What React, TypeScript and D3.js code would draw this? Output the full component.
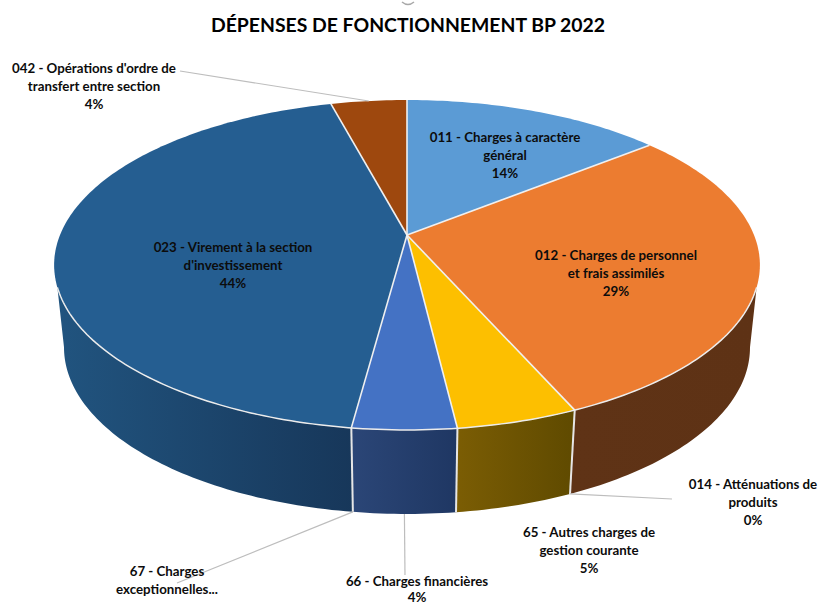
import React from "react";
import * as d3 from "d3";

const title = "DÉPENSES DE FONCTIONNEMENT BP 2022";
const categories = ["011", "012", "014", "65", "66", "67", "023", "042"];
const values = [14.2, 29.2, 0, 4.7, 4.0, 0, 43.75, 4.15];
const topColors = ["#5b9bd5", "#ec7c30", "#a5a5a5", "#fdbf00", "#4472c4", "#70ad47", "#255e91", "#9e480e"];
const sideStart = ["#37618a", "#5f3316", "#666666", "#7b5d04", "#2b4677", "#43682b", "#21547f", "#5f2c08"];
const sideEnd = ["#37618a", "#5e3215", "#666666", "#5f4a00", "#1f3763", "#43682b", "#17375a", "#5f2c08"];
const labelLines = [
  ["011 - Charges à caractère", "général", "14%"],
  ["012 - Charges de personnel", "et frais assimilés", "29%"],
  ["014 - Atténuations de", "produits", "0%"],
  ["65 - Autres charges de", "gestion courante", "5%"],
  ["66 - Charges financières", "4%"],
  ["67 - Charges", "exceptionnelles..."],
  ["023 - Virement à la section", "d'investissement", "44%"],
  ["042 - Opérations d'ordre de", "transfert entre section", "4%"],
];
const labelX = [505, 616, 753, 589, 417, 167, 233, 94];
const labelY = [142, 260, 489, 537, 586, 576, 252, 73];
const lineStep = [18, 18, 18, 18, 15.5, 18, 18, 18];
// leader line end (label side); null = label sits on the slice
const leaderEnd: ([number, number] | null)[] = [
  null, null, [672, 499], null, [405, 575], [177, 583], null, [180, 71],
];
const leaderFromTop = [false, false, false, false, false, false, false, true];

const W = 819, H = 605;
const cx = 407, cy = 235, R = 347, Hz = 159.5, k = 0.1818;
const shrink = 0.972, depth0 = 82, depth1 = 2;

const disc = (a: number) => ({ u: Math.sin(a), v: -Math.cos(a) });
const topPt = (a: number): [number, number] => {
  const { u, v } = disc(a);
  const w = 1 - k * v;
  return [cx + (R * u) / w, cy + (Hz * v) / w];
};
const botPt = (a: number): [number, number] => {
  const [x, y] = topPt(a);
  const { v } = disc(a);
  return [cx + (x - cx) * shrink, y + depth0 + depth1 * v];
};
const arcAngles = (a0: number, a1: number) => {
  const n = Math.max(1, Math.ceil(((a1 - a0) * 180) / Math.PI));
  return d3.range(n + 1).map((i) => a0 + ((a1 - a0) * i) / n);
};

const pieGen = d3.pie<number>().sort(null).value((d) => d).startAngle(0).endAngle(2 * Math.PI);
const slices = pieGen(values);
const line = d3.line<[number, number]>().x((d) => d[0]).y((d) => d[1]);
// the wall leaves the top rim a little below the widest point, the base curve turns at the widest point
const topStart = Math.acos(-0.31);
const topEnd = 2 * Math.PI - topStart;
const botStart = Math.acos(-k);
const botEnd = 2 * Math.PI - botStart;

export default function App() {
  const sides = slices
    .map((s, i) => {
      const a0 = Math.max(s.startAngle, topStart);
      const a1 = Math.min(s.endAngle, topEnd);
      if (a1 <= a0) return null;
      const b0 = Math.max(s.startAngle, botStart);
      const b1 = Math.min(s.endAngle, botEnd);
      const pts = [...arcAngles(a0, a1).map(topPt), ...arcAngles(b0, b1).reverse().map(botPt)];
      const xs = pts.map((p) => p[0]);
      return { i, a0, a1, pts, x0: d3.min(xs)!, x1: d3.max(xs)! };
    })
    .filter(Boolean) as { i: number; a0: number; a1: number; pts: [number, number][]; x0: number; x1: number }[];

  return (
    <svg width={W} height={H} style={{ position: "absolute", left: 0, top: 0, background: "#fff" }}>
      <defs>
        {sides.map((s) => (
          <linearGradient key={s.i} id={`side${s.i}`} gradientUnits="userSpaceOnUse" x1={s.x0} x2={s.x1} y1={0} y2={0}>
            <stop offset="0" stopColor={sideStart[s.i]} />
            <stop offset="1" stopColor={sideEnd[s.i]} />
          </linearGradient>
        ))}
      </defs>
      <path d="M402 2 Q408 7 414 2" fill="none" stroke="#a8a8a8" strokeWidth={1.5} />
      <text x={408} y={32} textAnchor="middle" fontFamily="Lato" fontWeight={700} fontSize={19.4} fill="#000">
        {title}
      </text>

      {sides.map((s) => (
        <path key={s.i} d={line(s.pts)! + "Z"} fill={`url(#side${s.i})`} />
      ))}
      {sides.filter((s) => s.a0 > topStart).map((s) => (
        <path key={s.i} d={line([topPt(s.a0), botPt(s.a0)])!} stroke="#e6e6e6" strokeWidth={2} fill="none" />
      ))}

      {slices.map((s, i) =>
        s.endAngle > s.startAngle ? (
          <path
            key={i}
            d={line([[cx, cy] as [number, number], ...arcAngles(s.startAngle, s.endAngle).map(topPt)])! + "Z"}
            fill={topColors[i]}
          />
        ) : null
      )}
      <path d={line(arcAngles(topStart, topEnd).map(topPt))!} fill="none" stroke="#ececec" strokeWidth={1.5} />
      {slices.map((s, i) =>
        s.endAngle > s.startAngle ? (
          <path key={i} d={line([[cx, cy] as [number, number], topPt(s.endAngle)])!} stroke="#f0f0f0" strokeWidth={1.6} fill="none" />
        ) : null
      )}

      {slices.map((s, i) => {
        const end = leaderEnd[i];
        if (!end) return null;
        const mid = (s.startAngle + s.endAngle) / 2;
        const start = leaderFromTop[i] ? topPt(mid) : botPt(mid);
        return <path key={i} d={line([start, end])!} stroke="#bdbdbd" strokeWidth={1.2} fill="none" />;
      })}

      {labelLines.map((ls, i) => (
        <text key={i} textAnchor="middle" fontFamily="Lato" fontWeight={700} fontSize={13.3} fill="#0c0c0c">
          {ls.map((t, j) => (
            <tspan key={j} x={labelX[i]} y={labelY[i] + j * lineStep[i]}>
              {t}
            </tspan>
          ))}
        </text>
      ))}
    </svg>
  );
}
